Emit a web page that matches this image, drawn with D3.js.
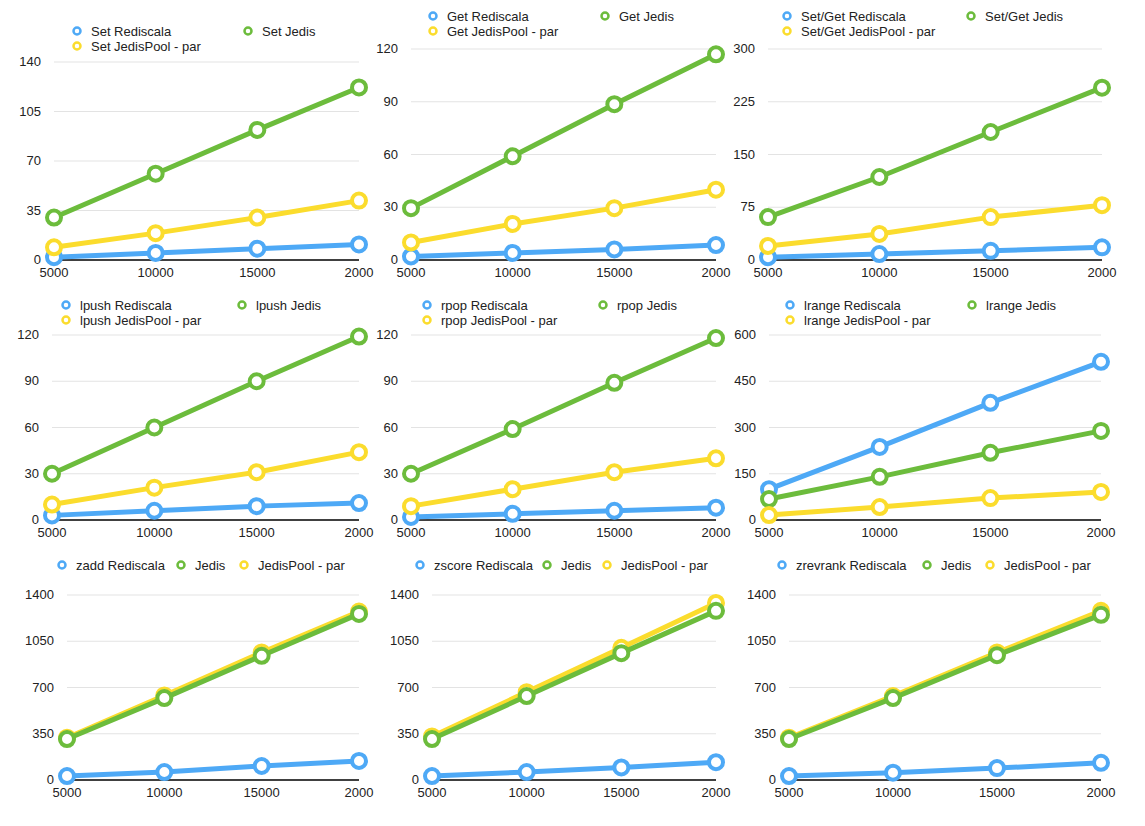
<!DOCTYPE html>
<html><head><meta charset="utf-8">
<script src="https://cdn.jsdelivr.net/npm/d3@7"></script>
<style>body{margin:0;background:#fff}text{font-family:"Liberation Sans",Arial,sans-serif;font-size:13px;fill:#222}</style>
</head><body><div id="canvas"></div>
<script>
var width = 1145, height = 826;
var xLabels = ["5000", "10000", "15000", "2000"];
var colors = {blue: "#4ea9f6", green: "#6cbc3c", yellow: "#fbdc2d"};

// each panel: values per series (Rediscala, Jedis, JedisPool - par)
var setRedis = [2, 5, 8, 11], setJedis = [30, 61, 92, 122], setPool = [9, 19, 30, 42];
var getRedis = [2, 4, 6, 8.5], getJedis = [29.5, 59, 88.6, 117], getPool = [10, 20.5, 29.5, 40];
var sgRedis = [4, 8.5, 13, 18], sgJedis = [61, 118, 182, 245], sgPool = [20, 37, 61, 78];
var lpushRedis = [3, 6, 9, 11], lpushJedis = [30, 60, 90, 119], lpushPool = [10, 21, 31, 44];
var rpopRedis = [2, 4, 6, 8], rpopJedis = [30, 59, 89, 118], rpopPool = [9, 20, 31, 40];
var lrangeRedis = [100, 237, 380, 513], lrangeJedis = [68, 140, 218, 289], lrangePool = [16, 42, 71, 91];
var zaddRedis = [30, 60, 106, 144], zaddJedis = [310, 620, 940, 1257], zaddPool = [320, 640, 965, 1275];
var zscoreRedis = [30, 60, 95, 135], zscoreJedis = [310, 635, 960, 1280], zscorePool = [330, 665, 1000, 1340];
var zrevRedis = [30, 55, 90, 130], zrevJedis = [310, 620, 945, 1250], zrevPool = [320, 635, 965, 1280];

var panels = [
	{x0:54, x1:359, y0:62, y1:260, max:140, step:35, names:["Set Rediscala","Set Jedis","Set JedisPool - par"], data:[setRedis,setJedis,setPool], leg:[[77,31],[248,31],[77,46]]},
	{x0:411, x1:716, y0:49, y1:260, max:120, step:30, names:["Get Rediscala","Get Jedis","Get JedisPool - par"], data:[getRedis,getJedis,getPool], leg:[[433,16],[605,16],[433,31]]},
	{x0:768, x1:1102, y0:49, y1:260, max:300, step:75, names:["Set/Get Rediscala","Set/Get Jedis","Set/Get JedisPool - par"], data:[sgRedis,sgJedis,sgPool], leg:[[787,16],[971,16],[787,31]]},
	{x0:52, x1:359, y0:335, y1:520, max:120, step:30, names:["lpush Rediscala","lpush Jedis","lpush JedisPool - par"], data:[lpushRedis,lpushJedis,lpushPool], leg:[[66,305],[242,305],[66,320]]},
	{x0:411, x1:716, y0:335, y1:520, max:120, step:30, names:["rpop Rediscala","rpop Jedis","rpop JedisPool - par"], data:[rpopRedis,rpopJedis,rpopPool], leg:[[427,305],[603,305],[427,320]]},
	{x0:769, x1:1101, y0:335, y1:520, max:600, step:150, names:["lrange Rediscala","lrange Jedis","lrange JedisPool - par"], data:[lrangeRedis,lrangeJedis,lrangePool], leg:[[790,305],[972,305],[790,320]]},
	{x0:67, x1:359, y0:595, y1:780, max:1400, step:350, names:["zadd Rediscala","Jedis","JedisPool - par"], data:[zaddRedis,zaddJedis,zaddPool], leg:[[62,565],[181,565],[244,565]]},
	{x0:432, x1:716, y0:595, y1:780, max:1400, step:350, names:["zscore Rediscala","Jedis","JedisPool - par"], data:[zscoreRedis,zscoreJedis,zscorePool], leg:[[420,565],[547,565],[607,565]]},
	{x0:789, x1:1101, y0:595, y1:780, max:1400, step:350, names:["zrevrank Rediscala","Jedis","JedisPool - par"], data:[zrevRedis,zrevJedis,zrevPool], leg:[[782,565],[927,565],[990,565]]}
];
var seriesColors = [colors.blue, colors.green, colors.yellow];

var svg = d3.select("#canvas").append("svg").attr("width", width).attr("height", height);

panels.forEach(function(p){
	var g = svg.append("g");
	var x = d3.scalePoint().domain(xLabels).range([p.x0, p.x1]);
	var y = d3.scaleLinear().domain([0, p.max]).range([p.y1, p.y0]);
	var ticks = d3.range(0, p.max + 1, p.step);

	g.selectAll(".grid").data(ticks.slice(1)).enter().append("line")
		.attr("x1", p.x0).attr("x2", p.x1)
		.attr("y1", function(d){ return y(d); }).attr("y2", function(d){ return y(d); })
		.attr("stroke", "#e3e3e3").attr("stroke-width", 1);
	g.selectAll(".yl").data(ticks).enter().append("text")
		.attr("x", p.x0 - 13).attr("y", function(d){ return y(d) + 4; })
		.attr("text-anchor", "end").text(function(d){ return d; });
	g.append("line").attr("x1", p.x0).attr("x2", p.x1).attr("y1", p.y1).attr("y2", p.y1)
		.attr("stroke", "#000").attr("stroke-width", 1.5);
	g.selectAll(".xl").data(xLabels).enter().append("text")
		.attr("x", function(d){ return x(d); }).attr("y", p.y1 + 17)
		.attr("text-anchor", "middle").text(function(d){ return d; });

	var line = d3.line().x(function(d, i){ return x(xLabels[i]); }).y(function(d){ return y(d); });
	// draw Jedis before pool? keep series order so yellow overlaps green's underside in bottom row
	var order = [0, 2, 1];
	if (p.max < 1400) order = [0, 1, 2];
	order.forEach(function(s){
		g.append("path").datum(p.data[s]).attr("d", line).attr("fill", "none")
			.attr("stroke", seriesColors[s]).attr("stroke-width", 5).attr("stroke-linejoin", "round");
		g.selectAll(".pt" + s).data(p.data[s]).enter().append("circle")
			.attr("cx", function(d, i){ return x(xLabels[i]); }).attr("cy", function(d){ return y(d); })
			.attr("r", 7).attr("fill", "#fff").attr("stroke", seriesColors[s]).attr("stroke-width", 4);
	});

	p.names.forEach(function(n, s){
		var l = p.leg[s];
		g.append("circle").attr("cx", l[0]).attr("cy", l[1]).attr("r", 3.5)
			.attr("fill", "#fff").attr("stroke", seriesColors[s]).attr("stroke-width", 2.5);
		g.append("text").attr("x", l[0] + 14).attr("y", l[1] + 4.5).text(n);
	});
});
</script>
</body></html>
